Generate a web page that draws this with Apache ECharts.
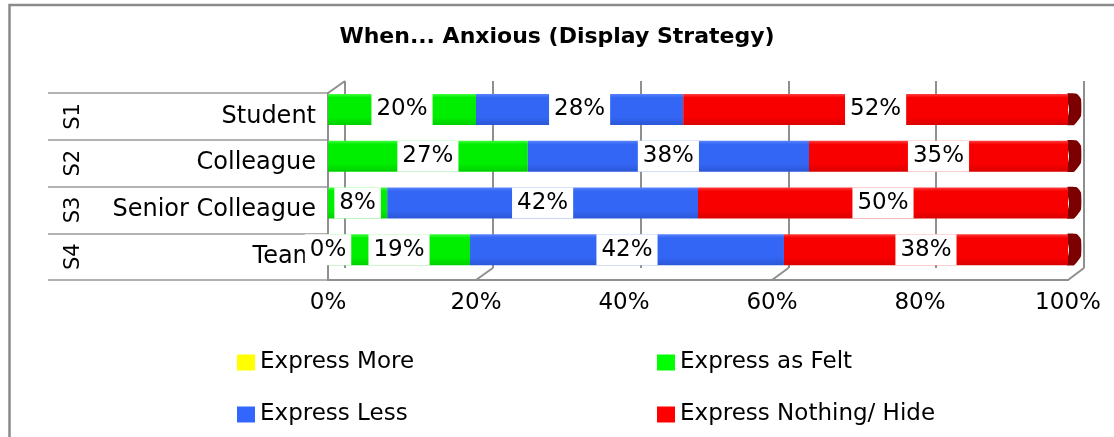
<!DOCTYPE html>
<html>
<head>
<meta charset="utf-8">
<title>When... Anxious (Display Strategy)</title>
<script src="https://cdn.jsdelivr.net/npm/echarts@6/dist/echarts.min.js"></script>
<style>
  html, body { margin: 0; padding: 0; background: #fff; }
  #chart { width: 1114px; height: 437px; }
</style>
</head>
<body>
<div id="chart"></div>
<script>
// Audience groups (two-level category axis)
const groupLabels = ['S1', 'S2', 'S3', 'S4'];
const categories = ['Student', 'Colleague', 'Senior Colleague', 'Team'];

// Series names
const seriesNames = ['Express More', 'Express as Felt', 'Express Less', 'Express Nothing/ Hide'];

// Percent of responses per strategy (null = no response recorded)
const expressMore    = [null, null, null, 0];
const expressAsFelt  = [20, 27, 8, 19];
const expressLess    = [28, 38, 42, 42];
const expressNothing = [52, 35, 50, 38];

// Value axis ticks
const xTicks = [0, 20, 40, 60, 80, 100];
// Floor ticks whose depth edge is drawn in full
const floorEdges = [20, 60, 100];

const FONT = 'DejaVu Sans';
const BAR_H = 31;
const GRID_LINE = '#8f8f8f';

const rawSeries = [expressMore, expressAsFelt, expressLess, expressNothing];
const rowTotals = categories.map((_, i) =>
  rawSeries.reduce((s, arr) => s + (arr[i] == null ? 0 : arr[i]), 0));

// 100% stacked: each segment is its share of the row total
const shares = rawSeries.map(arr =>
  arr.map((v, i) => (v == null ? null : v / rowTotals[i] * 100)));

function grad(top, mid, bottom) {
  return new echarts.graphic.LinearGradient(0, 0, 0, 1, [
    { offset: 0, color: top },
    { offset: 0.12, color: mid },
    { offset: 0.75, color: mid },
    { offset: 1, color: bottom }
  ]);
}
const barFills = [
  grad('#ffff66', '#ffff00', '#e6e600'),
  grad('#40ff40', '#00ee00', '#00d000'),
  grad('#5a85ff', '#3366f4', '#2b57d8'),
  grad('#ff4040', '#f80000', '#da0000')
];
const legendColors = ['#ffff00', '#00ff00', '#3366ff', '#ff0000'];

const chart = echarts.init(document.getElementById('chart'), null, { renderer: 'canvas' });

const gridBase = { outerBoundsMode: 'none', containLabel: false, show: false };
const hiddenValueAxis = (gi) => ({
  type: 'value', gridIndex: gi, min: 0, max: 100, interval: 20,
  axisLine: { show: false }, axisTick: { show: false },
  axisLabel: { show: false }, splitLine: { show: false }
});
const hiddenCatAxis = (gi) => ({
  type: 'category', gridIndex: gi, data: categories, inverse: true,
  axisLine: { show: false }, axisTick: { show: false },
  axisLabel: { show: false }, splitLine: { show: false }
});

const barSeries = rawSeries.map((arr, k) => ({
  name: seriesNames[k],
  type: 'bar',
  stack: 'total',
  xAxisIndex: 3,
  yAxisIndex: 3,
  barWidth: BAR_H,
  data: shares[k],
  itemStyle: { color: barFills[k] },
  label: {
    show: true,
    position: 'inside',
    formatter: p => arr[p.dataIndex] + '%',
    fontFamily: FONT,
    fontSize: 23,
    lineHeight: 23,
    color: '#000',
    backgroundColor: '#fff',
    padding: [4, 5]
  },
  emphasis: { disabled: true },
  z: 3
}));

// Dark end face of each 3D bar
const capSeries = {
  type: 'custom',
  xAxisIndex: 3,
  yAxisIndex: 3,
  silent: true,
  z: 2,
  data: categories.map((_, i) =>
    [shares.reduce((s, arr) => s + (arr[i] == null ? 0 : arr[i]), 0), i]),
  encode: { x: 0, y: 1 },
  renderItem: (params, api) => {
    const end = api.coord([api.value(0), api.value(1)]);
    const x = end[0];
    const y0 = end[1] - BAR_H / 2;
    const h = BAR_H;
    return {
      type: 'polygon',
      shape: {
        points: [
          [x - 1, y0], [x + 9, y0], [x + 13, y0 + 5],
          [x + 13, y0 + h - 9], [x + 6, y0 + h], [x - 1, y0 + h],
          [x + 1, y0 + h / 2]
        ],
        smooth: 0.15
      },
      style: { fill: '#7d0000' }
    };
  }
};

const legendItem = k => ({ name: seriesNames[k], itemStyle: { color: legendColors[k] } });
const legendBase = {
  orient: 'vertical', top: 351, padding: 0,
  itemWidth: 18, itemHeight: 16, itemGap: 29,
  icon: 'rect',
  textStyle: { fontFamily: FONT, fontSize: 23, color: '#000' },
  selectedMode: false
};

const option = {
  backgroundColor: '#fff',
  animation: false,
  title: {
    text: 'When... Anxious (Display Strategy)',
    left: 'center',
    top: 25,
    padding: 0,
    textStyle: { fontFamily: FONT, fontWeight: 'bold', fontSize: 22, lineHeight: 24, color: '#000' }
  },
  legend: [
    Object.assign({ data: [legendItem(0), legendItem(2)], left: 237 }, legendBase),
    Object.assign({ data: [legendItem(1), legendItem(3)], left: 657 }, legendBase)
  ],
  color: legendColors,
  grid: [
    Object.assign({ left: 48, top: 93, width: 280, height: 187 }, gridBase),  // label table
    Object.assign({ left: 345, top: 81, width: 739, height: 187 }, gridBase), // back wall
    Object.assign({ left: 328, top: 93, width: 740, height: 187 }, gridBase), // front plane
    Object.assign({ left: 328, top: 86, width: 740, height: 187 }, gridBase)  // bars
  ],
  xAxis: [
    hiddenValueAxis(0),
    Object.assign(hiddenValueAxis(1), {
      splitLine: { show: true, lineStyle: { color: GRID_LINE, width: 2 } }
    }),
    Object.assign(hiddenValueAxis(2), {
      axisLine: { show: true, lineStyle: { color: GRID_LINE, width: 2 } },
      axisLabel: {
        show: true, margin: 12, fontFamily: FONT, fontSize: 23, color: '#000',
        formatter: '{value}%'
      }
    }),
    hiddenValueAxis(3)
  ],
  yAxis: [
    Object.assign(hiddenCatAxis(0), {
      position: 'right',
      axisLabel: { show: true, inside: true, margin: 12, fontFamily: FONT, fontSize: 24, color: '#000' },
      splitLine: { show: true, lineStyle: { color: '#999', width: 1.5 } }
    }),
    hiddenCatAxis(1),
    Object.assign(hiddenCatAxis(2), {
      axisLine: { show: true, onZero: false, lineStyle: { color: GRID_LINE, width: 2 } }
    }),
    hiddenCatAxis(3),
    {
      type: 'category', gridIndex: 0, data: groupLabels, inverse: true,
      position: 'left',
      axisLine: { show: false }, axisTick: { show: false }, splitLine: { show: false },
      axisLabel: { show: true, inside: true, rotate: 90, margin: 15, fontFamily: FONT, fontSize: 21, color: '#000' }
    }
  ],
  series: barSeries.concat([capSeries])
};

chart.setOption(option);

// Depth edges of the 3D frame, placed through the front and back value axes
const frontTop = 93, frontBottom = 280, backTop = 81, backBottom = 268;
const fx = v => chart.convertToPixel({ xAxisIndex: 2 }, v);
const bx = v => chart.convertToPixel({ xAxisIndex: 1 }, v);
const edges = [
  [fx(xTicks[0]), frontTop, bx(xTicks[0]), backTop]
].concat(floorEdges.map(v => [fx(v), frontBottom, bx(v), backBottom]));

chart.setOption({
  graphic: [
    {
      type: 'rect', silent: true, z: -10,
      shape: { x: 9.5, y: 5, width: 1300, height: 600 },
      style: { fill: null, stroke: '#8a8a8a', lineWidth: 2.5 }
    }
  ].concat(edges.map(e => ({
    type: 'line', silent: true, z: 1,
    shape: { x1: e[0], y1: e[1], x2: e[2], y2: e[3] },
    style: { stroke: GRID_LINE, lineWidth: 2 }
  })))
});
</script>
</body>
</html>
